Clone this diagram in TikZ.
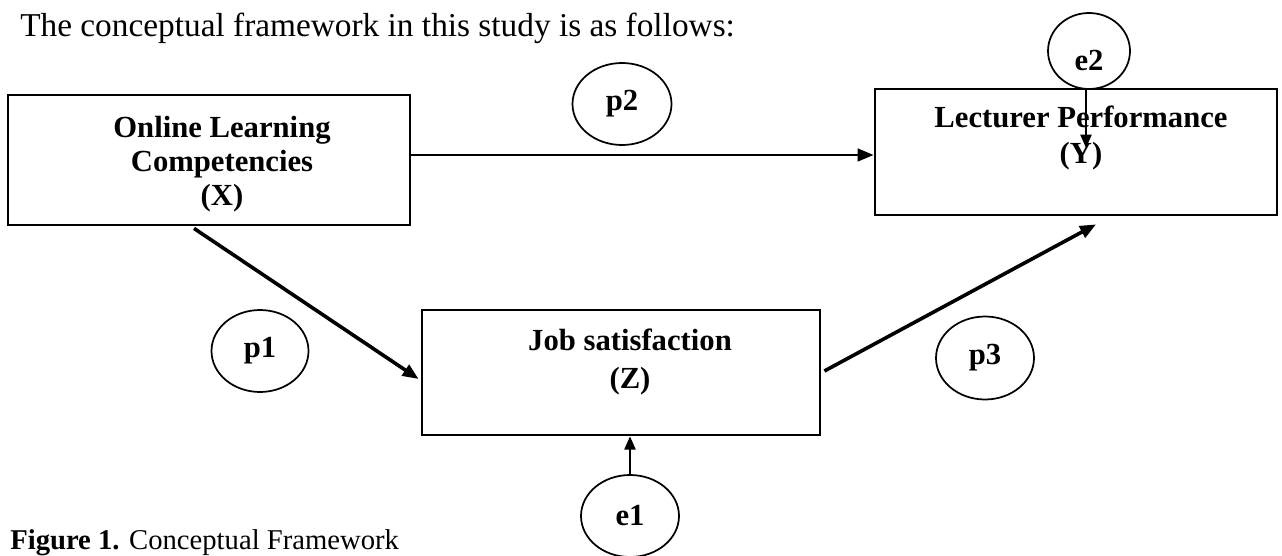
\documentclass[tikz,border=0pt]{standalone}
\usepackage{fontspec}
\setmainfont{Liberation Serif}
\usetikzlibrary{shapes.geometric,arrows.meta,calc}
\begin{document}
\begin{tikzpicture}[x=0.75pt,y=-0.75pt,
  box/.style={draw, line width=2.1pt, rectangle, inner sep=0pt},
  oval/.style={draw, line width=1.3pt, ellipse, inner sep=0pt, font=\fontsize{23}{27}\selectfont\bfseries},
  ovaltext/.style={inner sep=0pt, font=\fontsize{23}{27}\selectfont\bfseries},
  boxtext/.style={font=\fontsize{23}{26}\selectfont\bfseries, inner sep=0pt, anchor=base},
  arrowthick/.style={line width=2.7pt, -{Triangle[length=12pt,width=9.5pt]}},
  arrowmid/.style={line width=2pt, -{Triangle[length=12pt,width=9.5pt]}},
  arrowthin/.style={line width=1.2pt, -{Triangle[length=10pt,width=8.5pt]}},
]
\useasboundingbox (0,0) rectangle (1282,556);

% title and caption
\node[anchor=base west, inner sep=0pt, font=\fontsize{25}{28}\selectfont] (title) at (20,37) {The conceptual framework in this study is as follows:};
\node[anchor=base west, inner sep=0pt, font=\fontsize{21.5}{24}\selectfont] (caption) at (10,549) {\textbf{Figure 1.} Conceptual Framework};

% boxes
\node[box, minimum width=301.5pt, minimum height=97.5pt] (X) at (209,160) {};
\node[boxtext] (xl1) at (222,138) {Online Learning};
\node[boxtext] (xl2) at (222,172) {Competencies};
\node[boxtext] (xl3) at (222,206) {(X)};

\node[box, minimum width=301.5pt, minimum height=94.5pt] (Y) at (1076,152) {};
\node[boxtext] (yl1) at (1081,128) {Lecturer Performance};
\node[boxtext] (yl2) at (1081,164) {(Y)};

\node[box, minimum width=298.5pt, minimum height=93.75pt] (Z) at (621,372.5) {};
\node[boxtext] (zl1) at (630,350) {Job satisfaction};
\node[boxtext] (zl2) at (630,388) {(Z)};

% ovals
\node[oval, minimum width=74.25pt, minimum height=61.5pt] (p2) at (622,104) {p2};
\node[oval, minimum width=61.5pt, minimum height=57pt] (e2) at (1089,51) {};
\node[ovaltext] (e2t) at (1089,60) {e2};
\node[oval, minimum width=72.75pt, minimum height=61.5pt] (p1) at (260,351) {p1};
\node[oval, minimum width=73.5pt, minimum height=62.25pt] (p3) at (985,358) {p3};
\node[oval, minimum width=73.5pt, minimum height=61.5pt] (e1) at (630,516) {e1};

% connectors
\draw[arrowmid] ($(X.east)+(0,-5)$) -- ($(Y.west)+(0,3)$);
\draw[arrowthick] ($(X.south)+(-15,2)$) -- ($(Z.west)+(-2,6.5)$);
\draw[arrowthick] ($(Z.east)+(3,-1.5)$) -- ($(Y.south)+(20,8)$);
\coordinate (e2end) at ($(e2.south)+(-3,58)$);
\draw[arrowthin] ($(e2.south)+(-3,0)$) -- (e2end);
\draw[arrowthin] (e1.north) -- (e1.north |- Z.south);
\end{tikzpicture}
\end{document}
